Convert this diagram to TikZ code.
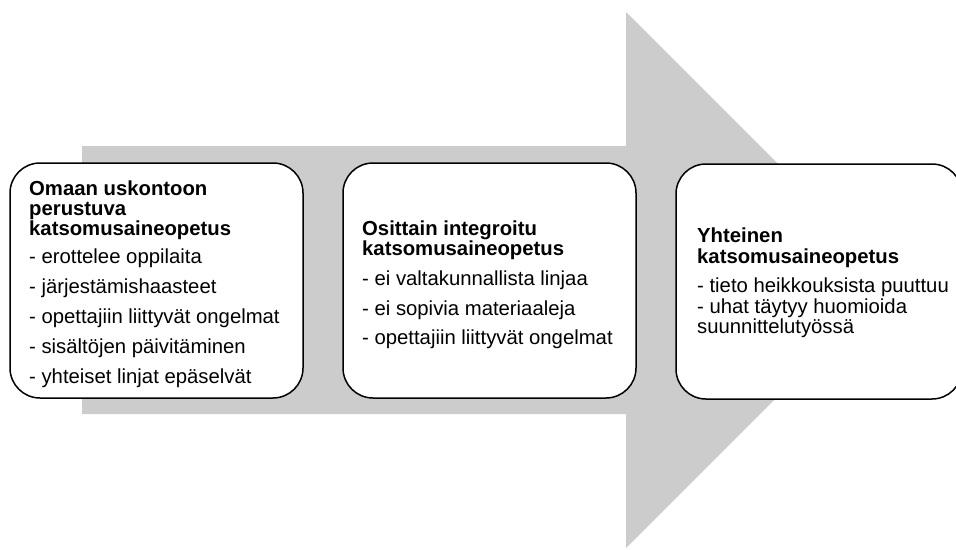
\documentclass[tikz,border=0pt]{standalone}
\usepackage{fontspec}
\setmainfont{Liberation Sans}
\definecolor{arrowgray}{RGB}{204,204,204}
\tikzset{
  card/.style={draw=black, line width=1.5pt, fill=white, rounded corners=30pt, inner sep=0pt},
  ttl/.style={anchor=base west, inner sep=0pt, font=\fontsize{20.3}{22}\selectfont\bfseries},
  itm/.style={anchor=base west, inner sep=0pt, font=\fontsize{20.3}{22}\selectfont},
}
\begin{document}
\begin{tikzpicture}[x=1pt,y=-1pt]
\useasboundingbox (0,0) rectangle (956,549);
% big arrow
\fill[arrowgray] (82,146) -- (626,146) -- (626,12) -- (894,280) -- (626,548) -- (626,414) -- (82,414) -- cycle;
% cards
\draw[card] (10,163) rectangle (303,398);
\draw[card] (343,163) rectangle (636,398);
\draw[card] (676,164) rectangle (962,399);
% box 1
\node[ttl] (a1) at (29,195) {Omaan uskontoon};
\node[ttl] (a2) at (29,215) {perustuva};
\node[ttl] (a3) at (29,235) {katsomusaineopetus};
\node[itm] (a4) at (29,263) {- erottelee oppilaita};
\node[itm] (a5) at (29,293) {- järjestämishaasteet};
\node[itm] (a6) at (29,323) {- opettajiin liittyvät ongelmat};
\node[itm] (a7) at (29,353) {- sisältöjen päivitäminen};
\node[itm] (a8) at (29,383) {- yhteiset linjat epäselvät};
% box 2
\node[ttl] (b1) at (362,235) {Osittain integroitu};
\node[ttl] (b2) at (362,255) {katsomusaineopetus};
\node[itm] (b3) at (362,285) {- ei valtakunnallista linjaa};
\node[itm] (b4) at (362,315) {- ei sopivia materiaaleja};
\node[itm] (b5) at (362,344) {- opettajiin liittyvät ongelmat};
% box 3
\node[ttl] (c1) at (697,242) {Yhteinen};
\node[ttl] (c2) at (697,263) {katsomusaineopetus};
\node[itm] (c3) at (697,292) {- tieto heikkouksista puuttuu};
\node[itm] (c4) at (697,313) {- uhat täytyy huomioida};
\node[itm] (c5) at (697,333) {suunnittelutyössä};
\end{tikzpicture}
\end{document}
